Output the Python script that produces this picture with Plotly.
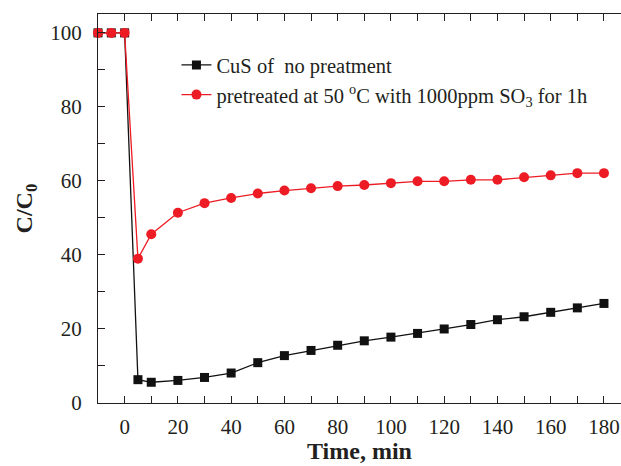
import plotly.graph_objects as go

# Time points (min) shared by both samples
time_min = [-10, -5, 0, 5, 10, 20, 30, 40, 50, 60, 70, 80, 90, 100,
            110, 120, 130, 140, 150, 160, 170, 180]

# Outlet concentration ratio C/C0 (%)
cus_untreated = [100, 100, 100, 6.3, 5.6, 6.1, 6.9, 8.1, 10.9, 12.8, 14.2,
                 15.6, 16.8, 17.8, 18.8, 20.0, 21.2, 22.5, 23.3, 24.5, 25.7, 26.9]
cus_pretreated = [100, 100, 100, 39.0, 45.6, 51.4, 54.0, 55.4, 56.6, 57.4, 58.0,
                  58.6, 58.9, 59.4, 59.9, 59.9, 60.3, 60.3, 61.0, 61.5, 62.1, 62.1]

label_untreated = "CuS of  no preatment"
label_pretreated = "pretreated at 50 <sup>o</sup>C with 1000ppm SO<sub>3</sub> for 1h"

x_ticks = [0, 20, 40, 60, 80, 100, 120, 140, 160, 180]
y_ticks = [0, 20, 40, 60, 80, 100]

ink = "#231F20"
red = "#ED1C24"
serif = "Liberation Serif, Times New Roman, serif"

fig = go.Figure()
fig.add_trace(go.Scatter(
    x=time_min, y=cus_untreated, name=label_untreated,
    mode="lines+markers", cliponaxis=False,
    line=dict(color="#111111", width=1.3),
    marker=dict(symbol="square", size=9, color="#111111"),
))
fig.add_trace(go.Scatter(
    x=time_min, y=cus_pretreated, name=label_pretreated,
    mode="lines+markers", cliponaxis=False,
    line=dict(color=red, width=1.3),
    marker=dict(symbol="circle", size=10, color=red),
))

axis_common = dict(
    showline=True, linecolor=ink, linewidth=1.3,
    ticks="inside", tickcolor=ink, tickwidth=1.2, ticklen=7,
    showgrid=False, zeroline=False,
    tickfont=dict(family=serif, size=21, color=ink),
    automargin=False,
)

fig.update_xaxes(
    **axis_common,
    mirror="ticks",
    ticklabelstandoff=5,
    range=[-10, 186.4],
    tickvals=x_ticks,
    minor=dict(dtick=10, tick0=0, ticks="inside", ticklen=7,
               tickcolor=ink, tickwidth=1.2),
)
fig.update_yaxes(
    **axis_common,
    ticklabelstandoff=11,
    range=[0, 105.1],
    tickvals=y_ticks,
    minor=dict(dtick=10, tick0=0, ticks="inside", ticklen=7,
               tickcolor=ink, tickwidth=1.2),
    title=dict(text="<b>C/C<sub>0</sub></b>", font=dict(family=serif, size=24, color=ink),
               standoff=10),
)

# x-axis title sits close to the bottom edge, below the tick labels
fig.add_annotation(
    text="<b>Time, min</b>", xref="paper", yref="paper",
    x=0.5, y=-0.1234, xanchor="center", yanchor="middle",
    showarrow=False, font=dict(family=serif, size=24, color=ink),
)

fig.update_layout(
    width=621, height=466,
    margin=dict(l=98, r=0, t=14, b=63),
    plot_bgcolor="white", paper_bgcolor="white",
    showlegend=True,
    legend=dict(
        x=0.15, y=0.92, xanchor="left", yanchor="top",
        bgcolor="rgba(0,0,0,0)",
        font=dict(family=serif, size=20.5, color=ink),
        tracegroupgap=0,
    ),
)

fig.write_html("out.html")
